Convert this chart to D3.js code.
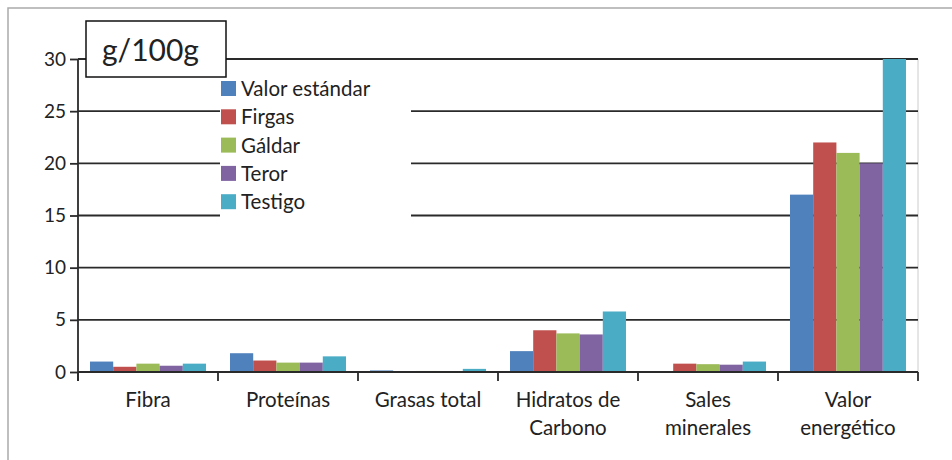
<!DOCTYPE html>
<html>
<head>
<meta charset="utf-8">
<script src="https://cdn.jsdelivr.net/npm/d3@7"></script>
<style>
  html, body { margin: 0; padding: 0; background: #fff; }
  svg { display: block; }
  text { font-family: Lato, "Open Sans", sans-serif; fill: #222; }
</style>
</head>
<body>
<svg id="chart" width="952" height="460"></svg>
<script>
const categories = ["Fibra", "Proteínas", "Grasas total", "Hidratos de\nCarbono", "Sales\nminerales", "Valor\nenergético"];
const seriesNames = ["Valor estándar", "Firgas", "Gáldar", "Teror", "Testigo"];
const valorEstandar = [1.0, 1.8, 0.15, 2.0, 0.0, 17.0];
const firgas        = [0.5, 1.1, 0.05, 4.0, 0.8, 22.0];
const galdar        = [0.8, 0.9, 0.1, 3.7, 0.75, 21.0];
const teror         = [0.6, 0.9, 0.05, 3.6, 0.7, 20.0];
const testigo       = [0.8, 1.5, 0.3, 5.8, 1.0, 30.0];
const yTicks = [0, 5, 10, 15, 20, 25, 30];
const unitLabel = "g/100g";
const colors = ["#4F81BD", "#C0504D", "#9BBB59", "#8064A2", "#4BACC6"];

const series = [valorEstandar, firgas, galdar, teror, testigo];

const svg = d3.select("#chart");
const pLeft = 78, pRight = 918, pTop = 59, pBottom = 372;

// outer frame
svg.append("path").attr("d", "M8,460 V8 H952")
  .attr("fill", "none").attr("stroke", "#aaa").attr("stroke-width", 1.5);

const x = d3.scaleBand().domain(categories).range([pLeft, pRight])
  .paddingInner(0.1714).paddingOuter(0.0857);
const xs = d3.scaleBand().domain(seriesNames).range([0, x.bandwidth()]).padding(0);
const y = d3.scaleLinear().domain([0, 30]).range([pBottom, pTop]);

// right plot border
svg.append("line").attr("x1", pRight).attr("x2", pRight).attr("y1", pTop).attr("y2", pBottom)
  .attr("stroke", "#ccc").attr("stroke-width", 1);

// gridlines
svg.append("g").selectAll("line").data(yTicks.filter(d => d > 0)).join("line")
  .attr("x1", pLeft).attr("x2", pRight)
  .attr("y1", d => y(d)).attr("y2", d => y(d))
  .attr("stroke", "#2a2a2a").attr("stroke-width", 1.8);

// bars
const groups = svg.append("g").selectAll("g").data(categories).join("g")
  .attr("transform", d => `translate(${x(d)},0)`);
groups.selectAll("rect").data((c, ci) => series.map((s, si) => ({ name: seriesNames[si], v: s[ci], i: si })))
  .join("rect")
  .attr("x", d => xs(d.name))
  .attr("width", xs.bandwidth())
  .attr("y", d => y(d.v))
  .attr("height", d => y(0) - y(d.v))
  .attr("fill", d => colors[d.i]);

// y axis
const yAxis = d3.axisLeft(y).tickValues(yTicks).tickSize(8).tickPadding(4);
const gy = svg.append("g").attr("transform", `translate(${pLeft},0)`).call(yAxis);
gy.select(".domain").attr("stroke", "#2a2a2a").attr("stroke-width", 1.8)
  .attr("d", `M0,${pBottom + 9}V${pTop}`);
gy.selectAll(".tick line").attr("stroke", "#2a2a2a").attr("stroke-width", 1.8);
gy.selectAll(".tick text").attr("font-size", 19).attr("fill", "#222")
  .style("font-family", "Lato, 'Open Sans', sans-serif");

// x axis line & ticks at category boundaries
svg.append("line").attr("x1", pLeft).attr("x2", pRight).attr("y1", pBottom).attr("y2", pBottom)
  .attr("stroke", "#2a2a2a").attr("stroke-width", 1.8);
const boundaries = categories.map(c => x(c) - x.step() * x.paddingInner() / 2)
  .concat([x(categories[categories.length - 1]) + x.bandwidth() + x.step() * x.paddingInner() / 2]);
svg.append("g").selectAll("line").data(boundaries).join("line")
  .attr("x1", d => d).attr("x2", d => d).attr("y1", pBottom).attr("y2", pBottom + 9)
  .attr("stroke", "#2a2a2a").attr("stroke-width", 1.8);

// category labels
const labels = svg.append("g").selectAll("text").data(categories).join("text")
  .attr("text-anchor", "middle")
  .attr("font-size", 20.5)
  .attr("x", d => x(d) + x.bandwidth() / 2)
  .attr("y", 407);
labels.selectAll("tspan").data(d => d.split("\n")).join("tspan")
  .attr("x", function() { return d3.select(this.parentNode).attr("x"); })
  .attr("dy", (d, i) => i === 0 ? 0 : 28)
  .text(d => d);

// legend
const lg = svg.append("g");
lg.append("rect").attr("x", 220).attr("y", 75).attr("width", 191).attr("height", 170).attr("fill", "#fff");
const items = lg.selectAll("g").data(seriesNames).join("g")
  .attr("transform", (d, i) => `translate(220,${89 + i * 28.3})`);
items.append("rect").attr("x", 1).attr("y", -8).attr("width", 15).attr("height", 15)
  .attr("fill", (d, i) => colors[i]);
items.append("text").attr("x", 21).attr("y", 7).attr("font-size", 20.5).text(d => d);

// unit label box
svg.append("rect").attr("x", 86).attr("y", 21).attr("width", 140).attr("height", 56)
  .attr("fill", "#fff").attr("stroke", "#111").attr("stroke-width", 1.5);
svg.append("text").attr("x", 102).attr("y", 61).attr("font-size", 30).attr("fill", "#111")
  .text(unitLabel);
</script>
</body>
</html>
